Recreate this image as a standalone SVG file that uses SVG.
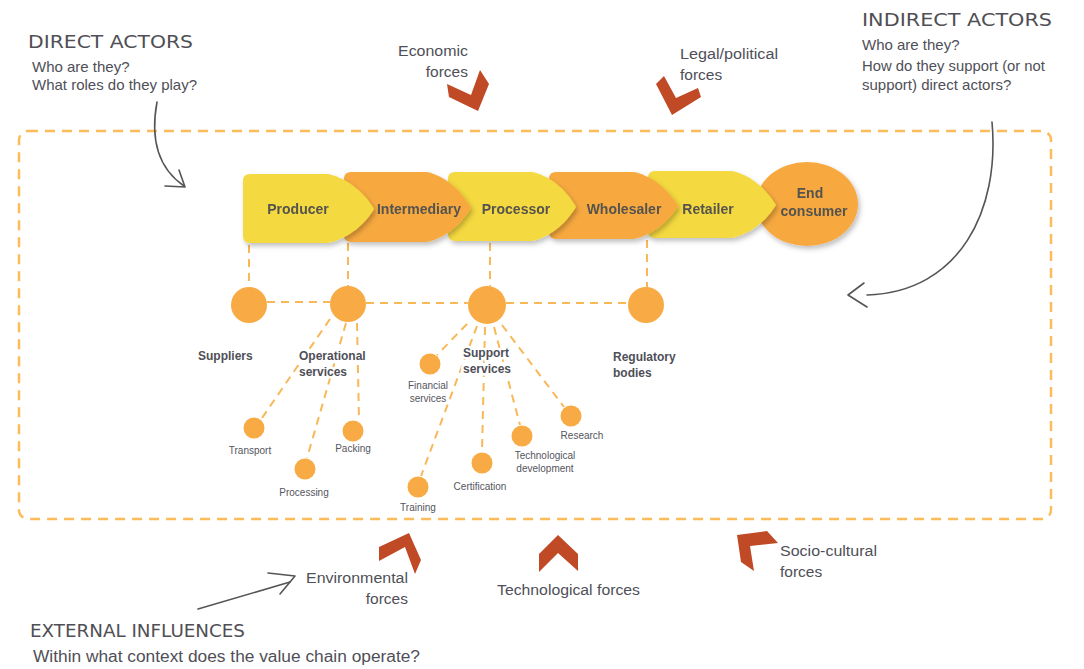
<svg xmlns="http://www.w3.org/2000/svg" width="1084" height="669" viewBox="0 0 1084 669">
<defs>
<style>
.hd{font-family:"DejaVu Sans","Liberation Sans",sans-serif;font-size:18px;fill:#4f4f55;}
.tx{font-family:"Liberation Sans",Arial,sans-serif;font-size:15px;fill:#4f4f58;}
.fx{font-family:"Liberation Sans",Arial,sans-serif;font-size:15.5px;fill:#4f4f58;}
.nb{font-family:"Liberation Sans",Arial,sans-serif;font-size:14px;font-weight:bold;fill:#55534e;text-anchor:middle;}
.lb{font-family:"Liberation Sans",Arial,sans-serif;font-size:12px;font-weight:bold;fill:#4f4f58;paint-order:stroke;stroke:#fff;stroke-width:5px;stroke-linejoin:round;}
.sm{font-family:"Liberation Sans",Arial,sans-serif;font-size:10px;fill:#55555e;text-anchor:middle;paint-order:stroke;stroke:#fff;stroke-width:3px;stroke-linejoin:round;}
.yel{fill:#F5D940;}
.org{fill:#F7A940;}
.dot{fill:#F8AB45;}
.dash{fill:none;stroke:#F9B858;stroke-width:2;stroke-dasharray:8 6;}
.chev{fill:#C04A25;}
.pen{fill:none;stroke:#555;stroke-width:1.6;stroke-linecap:round;stroke-linejoin:round;}
</style>
<filter id="sh" x="-10%" y="-10%" width="130%" height="140%">
<feDropShadow dx="2" dy="3" stdDeviation="2.5" flood-color="#000" flood-opacity="0.25"/>
</filter>
</defs>
<rect width="1084" height="669" fill="#fff"/>

<!-- boundary -->
<rect id="boundary" x="19" y="131" width="1032" height="388" rx="9" fill="none" stroke="#FDBB5A" stroke-width="2.5" stroke-dasharray="10 7"/>

<!-- connectors -->
<g id="connectors">
<path class="dash" d="M249,245 V287"/>
<path class="dash" d="M348,243 V287"/>
<path class="dash" d="M490,243 V286"/>
<path class="dash" d="M647,240 V287"/>
<path class="dash" d="M267,302 H330"/>
<path class="dash" d="M366,303 H468"/>
<path class="dash" d="M506,303 H628"/>
<path class="dash" d="M330,319 L262,418"/>
<path class="dash" d="M346,323 L307,458"/>
<path class="dash" d="M357,323 L359,420"/>
<path class="dash" d="M467,324 L437,355"/>
<path class="dash" d="M477,326 L421,476"/>
<path class="dash" d="M485,327 L482,452"/>
<path class="dash" d="M494,327 L520,425"/>
<path class="dash" d="M502,325 L564,407"/>
</g>

<!-- chain -->
<g id="end-consumer" filter="url(#sh)">
<ellipse class="org" cx="807" cy="204" rx="51" ry="42"/>
<text class="nb" x="810" y="198">End</text>
<text class="nb" x="814" y="216">consumer</text>
</g>
<g id="retailer" filter="url(#sh)">
<path class="yel" d="M655,171 L732,171 C754,176 768,192 776,205 C768,218 754,233 732,238 L655,238 Q648,238 648,231 L648,178 Q648,171 655,171 Z"/>
<text class="nb" x="708" y="214">Retailer</text>
</g>
<g id="wholesaler" filter="url(#sh)">
<path class="org" d="M556,172 L634,172 C656,177 670,193 678,206 C670,219 656,234 634,239 L556,239 Q549,239 549,232 L549,179 Q549,172 556,172 Z"/>
<text class="nb" x="624" y="214">Wholesaler</text>
</g>
<g id="processor" filter="url(#sh)">
<path class="yel" d="M455,172 L532,172 C554,177 568,193 576,207 C568,220 554,236 532,241 L455,241 Q448,241 448,234 L448,179 Q448,172 455,172 Z"/>
<text class="nb" x="516" y="214">Processor</text>
</g>
<g id="intermediary" filter="url(#sh)">
<path class="org" d="M351,172 L427,172 C449,177 463,194 471,208 C463,221 449,237 427,242 L351,242 Q344,242 344,235 L344,179 Q344,172 351,172 Z"/>
<text class="nb" x="419" y="214">Intermediary</text>
</g>
<g id="producer" filter="url(#sh)">
<path class="yel" d="M250,174 L328,174 C350,179 366,195 374,209 C366,223 350,238 328,243 L250,243 Q243,243 243,236 L243,181 Q243,174 250,174 Z"/>
<text class="nb" x="298" y="214">Producer</text>
</g>

<!-- actor circles -->
<g id="suppliers">
<circle class="dot" cx="249" cy="305" r="18"/>
<text class="lb" x="198" y="360">Suppliers</text>
</g>
<g id="operational-services">
<circle class="dot" cx="348" cy="304" r="18"/>
<text class="lb" x="299" y="360">Operational</text>
<text class="lb" x="299" y="376">services</text>
</g>
<g id="support-services">
<circle class="dot" cx="487" cy="305" r="19"/>
<text class="lb" x="463" y="357">Support</text>
<text class="lb" x="463" y="373">services</text>
</g>
<g id="regulatory-bodies">
<circle class="dot" cx="646" cy="305" r="18"/>
<text class="lb" x="613" y="361">Regulatory</text>
<text class="lb" x="613" y="377">bodies</text>
</g>

<!-- small services -->
<g id="transport"><circle class="dot" cx="254" cy="428" r="10.5"/><text class="sm" x="250" y="454">Transport</text></g>
<g id="processing"><circle class="dot" cx="305" cy="469" r="10.5"/><text class="sm" x="304" y="496">Processing</text></g>
<g id="packing"><circle class="dot" cx="353" cy="431" r="10.5"/><text class="sm" x="353" y="452">Packing</text></g>
<g id="financial-services"><circle class="dot" cx="430" cy="364" r="10.5"/><text class="sm" x="428" y="389">Financial</text><text class="sm" x="428" y="402">services</text></g>
<g id="training"><circle class="dot" cx="418" cy="487" r="10.5"/><text class="sm" x="418" y="511">Training</text></g>
<g id="certification"><circle class="dot" cx="482" cy="463" r="10.5"/><text class="sm" x="480" y="490">Certification</text></g>
<g id="technological-development"><circle class="dot" cx="522" cy="436" r="10.5"/><text class="sm" x="545" y="459">Technological</text><text class="sm" x="545" y="472">development</text></g>
<g id="research"><circle class="dot" cx="571" cy="416" r="10.5"/><text class="sm" x="582" y="439">Research</text></g>

<!-- forces -->
<g id="economic-forces">
<polygon class="chev" points="447,84 471,95 480,70 489,84 478,111 449,97"/>
<text class="fx" x="398" y="56" textLength="70" lengthAdjust="spacingAndGlyphs">Economic</text>
<text class="fx" x="468" y="77" text-anchor="end">forces</text>
</g>
<g id="legal-political-forces">
<polygon class="chev" points="664,76 676,98 698,88 701,97 672,115 656,84"/>
<text class="fx" x="680" y="59" textLength="98" lengthAdjust="spacingAndGlyphs">Legal/political</text>
<text class="fx" x="680" y="80">forces</text>
</g>
<g id="environmental-forces">
<polygon class="chev" points="379,547 409,533 421,560 415,574 405,547 379,561"/>
<text class="fx" x="306" y="583" textLength="102" lengthAdjust="spacingAndGlyphs">Environmental</text>
<text class="fx" x="408" y="604" text-anchor="end">forces</text>
</g>
<g id="technological-forces">
<polygon class="chev" points="539,554 558,535 578,554 578,571 558,553 539,572"/>
<text class="fx" x="497" y="595" textLength="143" lengthAdjust="spacingAndGlyphs">Technological forces</text>
</g>
<g id="socio-cultural-forces">
<polygon class="chev" points="737,535 767,531 778,543 750,546 754,571 741,562"/>
<text class="fx" x="780" y="556" textLength="97" lengthAdjust="spacingAndGlyphs">Socio-cultural</text>
<text class="fx" x="780" y="577">forces</text>
</g>

<!-- annotations -->
<g id="direct-actors">
<text class="hd" x="28" y="48" textLength="165" lengthAdjust="spacingAndGlyphs">DIRECT ACTORS</text>
<text class="tx" x="32" y="72">Who are they?</text>
<text class="tx" x="32" y="90" textLength="165" lengthAdjust="spacingAndGlyphs">What roles do they play?</text>
<path class="pen" d="M157,102 C150,140 158,168 184,186"/>
<path class="pen" d="M179,170 L185,187 L165,186"/>
</g>
<g id="indirect-actors">
<text class="hd" x="862" y="26" textLength="190" lengthAdjust="spacingAndGlyphs">INDIRECT ACTORS</text>
<text class="tx" x="862" y="50">Who are they?</text>
<text class="tx" x="862" y="71" textLength="183" lengthAdjust="spacingAndGlyphs">How do they support (or not</text>
<text class="tx" x="862" y="90">support) direct actors?</text>
<path class="pen" d="M992,122 C1000,210 960,292 867,295"/>
<path class="pen" d="M864,283 L848,295 L867,307"/>
</g>
<g id="external-influences">
<text class="hd" x="30" y="637" textLength="215" lengthAdjust="spacingAndGlyphs">EXTERNAL INFLUENCES</text>
<text class="tx" x="33" y="662" style="font-size:16px" textLength="387" lengthAdjust="spacingAndGlyphs">Within what context does the value chain operate?</text>
<path class="pen" d="M198,609 L290,582"/>
<path class="pen" d="M268,573 L295,576 L280,594"/>
</g>
</svg>
